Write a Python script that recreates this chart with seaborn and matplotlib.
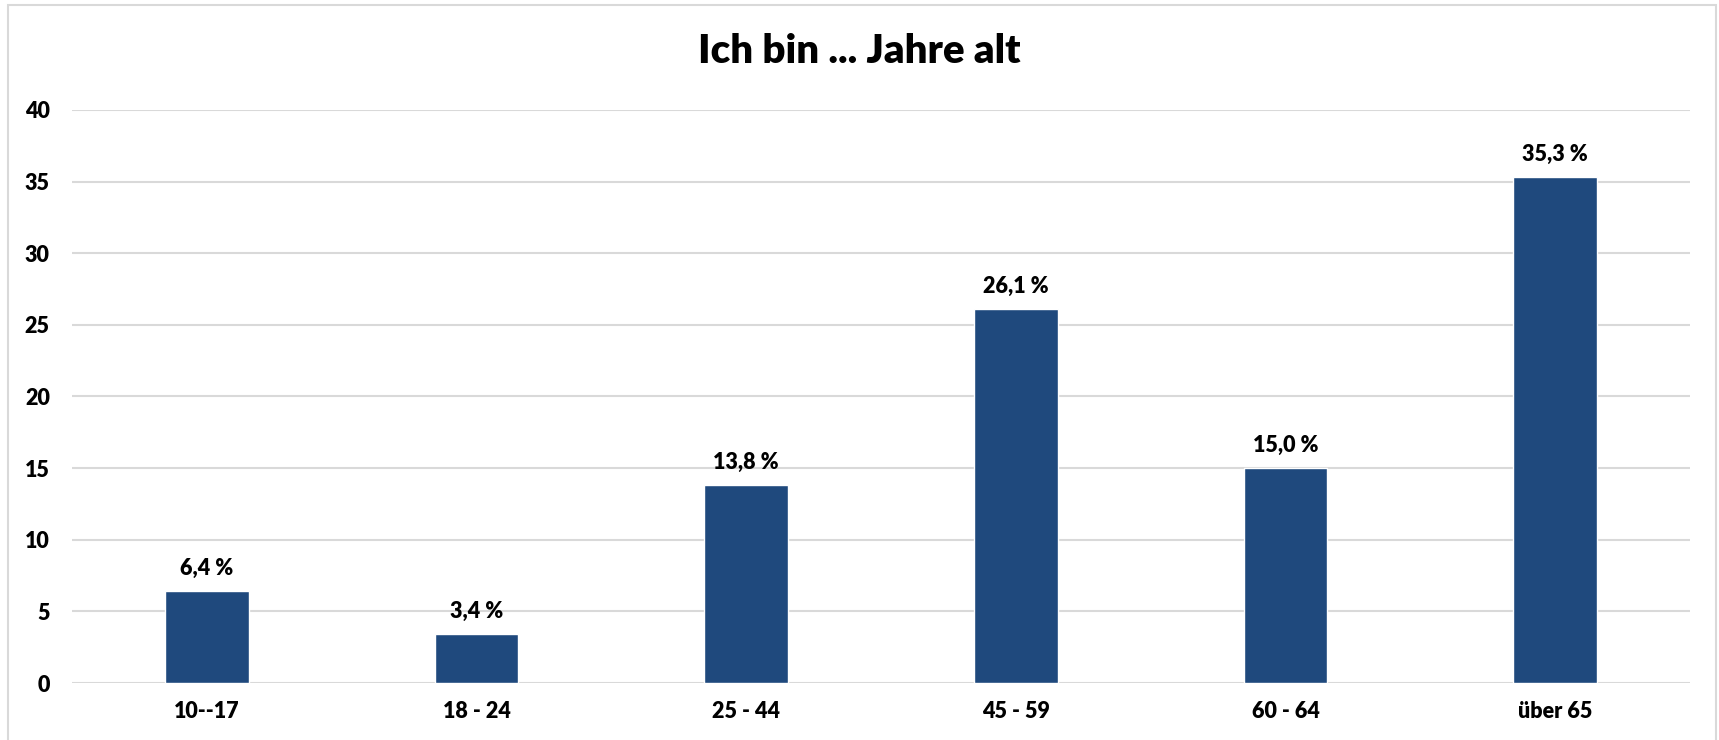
import pandas as pd
import seaborn as sns
import matplotlib.pyplot as plt
from matplotlib.patches import Rectangle

categories = ["10--17", "18 - 24", "25 - 44", "45 - 59", "60 - 64", "über 65"]
values = [6.4, 3.4, 13.8, 26.1, 15.0, 35.3]
yticks = [0, 5, 10, 15, 20, 25, 30, 35, 40]

df = pd.DataFrame({"Alter": categories, "Anteil": values})

sns.set_style("white")
plt.rcParams["font.family"] = ["Lato", "DejaVu Sans"]
plt.rcParams["font.weight"] = "heavy"
plt.rcParams["text.color"] = "black"
plt.rcParams["xtick.color"] = "black"
plt.rcParams["ytick.color"] = "black"

fig = plt.figure(figsize=(17.19, 7.4), dpi=100)
ax = fig.add_axes([0.0419, 0.077, 0.9412, 0.7744])

sns.barplot(data=df, x="Alter", y="Anteil", color="#1F497D", saturation=1,
            width=0.31, ax=ax, zorder=3)

for i, v in enumerate(values):
    ax.annotate(f"{v:.1f} %".replace(".", ","), (i, v), xytext=(0, 9),
                textcoords="offset points", ha="center", va="bottom",
                fontsize=15.5, fontweight="heavy", color="black")

ax.set_ylim(0, 40)
ax.set_yticks(yticks)
ax.set_xlim(-0.5, len(categories) - 0.5)
ax.yaxis.grid(True, color="#d9d9d9", linewidth=1.5, zorder=0)
ax.set_axisbelow(True)
sns.despine(ax=ax, left=True, bottom=True)
ax.tick_params(axis="y", length=0, pad=16, labelsize=15.5)
ax.tick_params(axis="x", length=0, pad=13, labelsize=15.5)
for lab in ax.get_xticklabels() + ax.get_yticklabels():
    lab.set_fontweight("heavy")
ax.set_xlabel("")
ax.set_ylabel("")

fig.text(0.5, 0.93, "Ich bin ... Jahre alt", ha="center", va="center",
         fontsize=29, fontweight="heavy", color="black")

fig.patches.append(Rectangle((0.0047, -0.05), 0.9936, 1.043, transform=fig.transFigure,
                             fill=False, edgecolor="#d9d9d9", linewidth=1.5))

plt.savefig("out.png", dpi=100)
